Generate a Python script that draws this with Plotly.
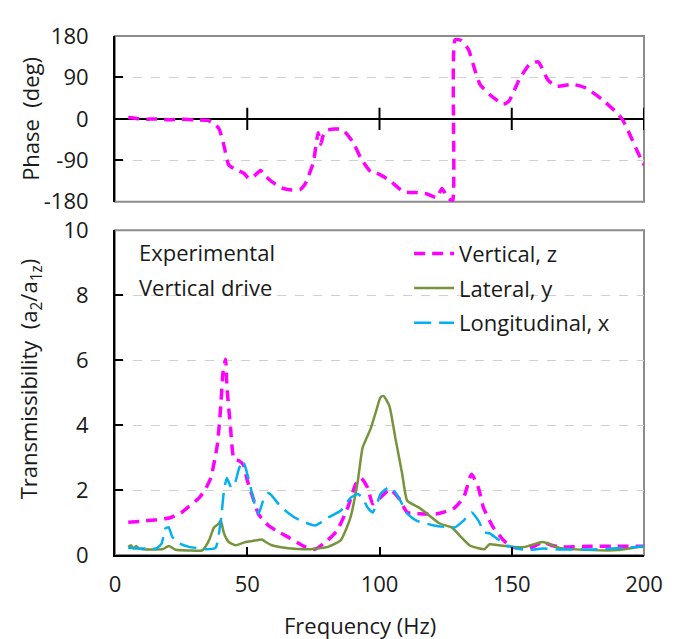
import plotly.graph_objects as go

# ---------------- data ----------------
phase_freq = [5, 8, 12, 15, 20, 25, 30, 35, 37, 39.3, 41.2, 43, 45, 48.7, 50.5, 52.5, 55, 57, 59,
              63, 66, 70, 72, 75, 76.8, 77.8, 78.6, 80, 83, 86, 90, 93, 96.7, 99, 103.7, 109,
              114, 118, 121.7, 123.6, 125.5, 127.6, 128.6, 131, 133.7, 136, 138, 141.6, 146.8,
              149, 152.8, 156.5, 160, 163.6, 166.7, 173, 178, 184, 189, 191.7, 194, 197.7, 200]
phase_deg = [3, 1, -1, 0, -2, -1, -2, -3, -8, -21, -58, -100, -108, -118, -129, -125, -112, -125, -135,
             -150, -154, -153, -140, -94, -30, -55, -38, -25, -22, -23, -51, -86, -115, -118, -133, -158,
             -160, -163, -171, -151, -168, -179, 172, 170, 150, 107, 75, 53, 32,
             39, 85, 117, 124, 85, 71, 75, 67, 43, 17, 0, -26, -73, -100]

vert_freq = [5, 10, 15, 20.6, 25, 28, 31.8, 34, 36.2, 38.7, 40, 40.8, 41.8, 42.3, 43.7, 45, 47,
             48.7, 50, 52, 54.3, 58, 61, 65.5, 71.9, 75.6, 78, 80.5, 84, 88, 91, 93, 95.5, 97.4,
             99, 101.8, 104, 107.5, 110.5, 115.4, 121.7, 128, 131.8, 134.8, 137.4, 139.3, 143,
             146.8, 149.8, 155, 158, 161.7, 165, 168, 180, 190, 200]
vert_z = [1.01, 1.04, 1.08, 1.14, 1.3, 1.5, 1.76, 2.0, 2.37, 3.4, 4.6, 5.6, 6.03, 5.2, 3.9, 2.95, 2.9,
          2.75, 2.3, 1.8, 1.25, 0.91, 0.75, 0.55, 0.25, 0.18, 0.3, 0.46, 0.76, 1.46, 2.18, 2.37, 2.07, 1.58,
          1.67, 1.88, 2.03, 1.73, 1.31, 1.27, 1.27, 1.43, 1.77, 2.49, 2.07, 1.46, 0.85,
          0.46, 0.25, 0.2, 0.25, 0.4, 0.3, 0.25, 0.27, 0.27, 0.27]

lat_freq = [5, 6, 7, 8, 9, 10.5, 15, 18, 20.3, 23, 28, 33, 35.6, 37.4, 39.3, 40, 41.2, 43, 45.6,
            49.4, 52, 55.5, 57, 59.3, 65.5, 74, 80.5, 85.4, 89, 91.8, 93.6, 96.7, 98.6, 100.4, 101.5,
            103.7, 106, 108.6, 110.5, 115, 118, 122.8, 127.3, 130.3, 134, 137.8, 139.7, 141.6,
            145.3, 150.5, 155, 161.7, 168, 180.5, 190, 196, 200]
lat_y = [0.25, 0.3, 0.2, 0.28, 0.2, 0.18, 0.17, 0.18, 0.28, 0.16, 0.14, 0.14, 0.46, 0.85, 0.97, 1.06,
         0.67, 0.4, 0.3, 0.4, 0.43, 0.48, 0.4, 0.3, 0.21, 0.18, 0.25, 0.46, 1.15, 2.28, 3.3, 3.9, 4.4,
         4.86, 4.9, 4.6, 3.6, 2.49, 1.67, 1.46, 1.27, 0.97, 0.85, 0.6, 0.3, 0.2, 0.18, 0.33,
         0.3, 0.25, 0.25, 0.4, 0.22, 0.15, 0.15, 0.22, 0.27]

long_freq = [5, 8, 12, 15.6, 17.6, 19.1, 20.3, 21.7, 24.3, 28, 34.3, 38, 40, 41.2, 42.3, 44, 45.6,
             46.8, 48.3, 49.4, 51.3, 53.2, 54.3, 56, 58, 59, 63, 68, 75.6, 80.5, 85.4, 89, 91.8,
             93.6, 95.5, 97.4, 99.2, 100.4, 103.7, 105.6, 107.9, 110.5, 114, 120.6, 128.5, 131.8,
             134.8, 137.4, 139.7, 141.6, 144.2, 148, 155.4, 161.7, 168, 180.5, 193, 200]
long_x = [0.22, 0.2, 0.2, 0.2, 0.35, 0.82, 0.85, 0.55, 0.36, 0.25, 0.18, 0.22, 1.06, 1.97, 2.37, 2.07,
          2.28, 2.64, 2.9, 2.68, 2.07, 1.46, 1.27, 1.67, 1.91, 1.85, 1.46, 1.15, 0.91, 1.15, 1.37, 1.76,
          1.88, 1.76, 1.46, 1.31, 1.61, 1.88, 2.1, 1.97, 1.67, 1.27, 1.06, 0.91, 0.85, 1.06,
          1.31, 1.06, 0.7, 0.67, 0.52, 0.3, 0.15, 0.2, 0.17, 0.17, 0.22, 0.27]

freq_ticks = [0, 50, 100, 150, 200]
phase_ticks = [-180, -90, 0, 90, 180]
phase_tick_labels = ["-180", "-90", "0", "90", "180"]
trans_ticks = [0, 2, 4, 6, 8, 10]

# ---------------- styling ----------------
FONT = "Open Sans"
FS = 22
MAGENTA = "#FF00FF"
GREEN = "#77933C"
CYAN = "#00B0F0"
GRAY = "#8C8C8C"
TXT = "#1a1a1a"

fig = go.Figure()

# phase (top panel)
fig.add_trace(go.Scatter(x=phase_freq, y=phase_deg, xaxis="x2", yaxis="y2", mode="lines",
                         line=dict(color=MAGENTA, width=3.5, dash="11px,7px", shape="spline", smoothing=0.5),
                         showlegend=False, hoverinfo="skip"))
# cross ticks on the zero line of the top panel
fig.add_trace(go.Scatter(x=freq_ticks[1:], y=[0] * (len(freq_ticks) - 1), xaxis="x2", yaxis="y2",
                         mode="markers", marker=dict(symbol="line-ns", size=16, line=dict(color="black", width=2)),
                         showlegend=False, hoverinfo="skip"))

# transmissibility (bottom panel)
fig.add_trace(go.Scatter(x=vert_freq, y=vert_z, mode="lines", name="Vertical, z", legendgroup="a",
                         line=dict(color=MAGENTA, width=3.5, dash="11px,7px", shape="spline", smoothing=0.5)))
fig.add_trace(go.Scatter(x=lat_freq, y=lat_y, mode="lines", name="Lateral, y", legendgroup="b",
                         line=dict(color=GREEN, width=2.5, shape="spline", smoothing=0.5)))
fig.add_trace(go.Scatter(x=long_freq, y=long_x, mode="lines", name="Longitudinal, x", legendgroup="c",
                         line=dict(color=CYAN, width=2.5, dash="17px,8px", shape="spline", smoothing=0.5)))

tickfont = dict(family=FONT, size=FS, color=TXT)

# the page body adds an 8px offset, so the figure is 8px smaller and margins compensate
fig.update_layout(
    width=667, height=631,
    margin=dict(l=107, r=26, t=21, b=84),
    paper_bgcolor="white", plot_bgcolor="white",
    font=dict(family=FONT, size=FS, color=TXT),
    xaxis=dict(domain=[0, 1], anchor="y", range=[0, 200], tickvals=freq_ticks, ticks="inside",
               ticklen=8, tickwidth=2, tickcolor="black", showline=True, linecolor="black", linewidth=2,
               showgrid=False, zeroline=False, tickfont=tickfont, ticklabelstandoff=9),
    yaxis=dict(domain=[0, 0.6255], anchor="x", range=[0, 10], tickvals=trans_ticks, ticks="inside",
               ticklen=8, tickwidth=2, tickcolor="black", showline=True, linecolor="black", linewidth=2,
               showgrid=True, gridcolor="#D0D0D0", griddash="dash", gridwidth=1, zeroline=False,
               tickfont=tickfont, ticklabelstandoff=20),
    xaxis2=dict(domain=[0, 1], anchor="y2", range=[0, 200], showticklabels=False, ticks="",
                showline=False, showgrid=False, zeroline=False),
    yaxis2=dict(domain=[0.6806, 1], anchor="x2", range=[-180, 180], tickvals=phase_ticks,
                ticktext=phase_tick_labels, ticks="inside",
                ticklen=8, tickwidth=2, tickcolor="black", showline=True, linecolor="black", linewidth=2,
                showgrid=True, gridcolor="#D0D0D0", griddash="dash", gridwidth=1,
                zeroline=True, zerolinecolor="black", zerolinewidth=2,
                tickfont=tickfont, ticklabelstandoff=20),
    legend=dict(x=0.556, y=0.621, xanchor="left", yanchor="top", bgcolor="rgba(0,0,0,0)",
                font=dict(family=FONT, size=FS, color=TXT), tracegroupgap=3, itemwidth=40),
    shapes=[
        dict(type="rect", xref="x domain", yref="y domain", x0=0, x1=1, y0=0, y1=1,
             line=dict(color=GRAY, width=2), layer="below"),
        dict(type="rect", xref="x2 domain", yref="y2 domain", x0=0, x1=1, y0=0, y1=1,
             line=dict(color=GRAY, width=2), layer="below"),
    ],
    annotations=[
        dict(text="Experimental", xref="paper", yref="paper", x=0.041, y=0.583, xanchor="left",
             yanchor="middle", showarrow=False, font=dict(family=FONT, size=FS, color=TXT)),
        dict(text="Vertical drive", xref="paper", yref="paper", x=0.041, y=0.516, xanchor="left",
             yanchor="middle", showarrow=False, font=dict(family=FONT, size=FS, color=TXT)),
        dict(text="Frequency (Hz)", xref="paper", yref="paper", x=0.4625, y=-0.135, xanchor="center",
             yanchor="middle", showarrow=False, font=dict(family=FONT, size=FS, color=TXT)),
        dict(text="Phase  (deg)", xref="paper", yref="paper", x=-0.161, y=0.84, xanchor="center",
             yanchor="middle", textangle=-90, showarrow=False, font=dict(family=FONT, size=FS, color=TXT)),
        dict(text="Transmissibility  (a<sub>2</sub>/a<sub>1z</sub>)", xref="paper", yref="paper",
             x=-0.161, y=0.34, xanchor="center", yanchor="middle", textangle=-90, showarrow=False,
             font=dict(family=FONT, size=FS, color=TXT)),
    ],
)

fig.write_html("out.html")
